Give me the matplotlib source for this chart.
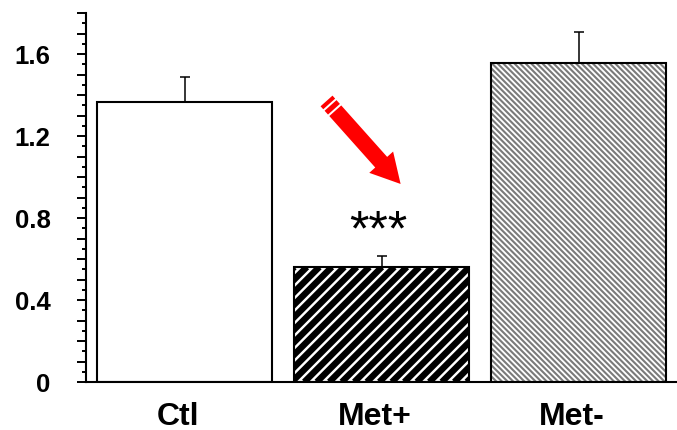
import numpy as np
import matplotlib
matplotlib.use("Agg")
import matplotlib.pyplot as plt
from matplotlib.lines import Line2D
from matplotlib.transforms import IdentityTransform, ScaledTranslation
from matplotlib.ticker import MultipleLocator, FuncFormatter

plt.rcParams['font.family'] = ['Liberation Sans', 'DejaVu Sans']
plt.rcParams['font.weight'] = 'bold'

# data
groups = ["Ctl", "Met+", "Met-"]
means = [1.367, 0.561, 1.556]
errors = [0.122, 0.054, 0.151]
sig_label = "***"

# arrow pointing at Met+ (tail, tip) in data coords
arrow_tail = (0.721, 1.371)
arrow_tip = (1.097, 0.966)


def stripes(ax, bar, period, lw, color, up=True):
    # draw diagonal stripes (in pixel space) clipped to a bar
    (x0, y0), (x1, y1) = ax.transData.transform(
        [(bar.get_x(), bar.get_y()),
         (bar.get_x() + bar.get_width(), bar.get_y() + bar.get_height())])
    h = y1 - y0
    for c in np.arange(x0 - h - period, x1 + period, period):
        if up:
            xs, ys = [c, c + h], [y0, y1]
        else:
            xs, ys = [c, c + h], [y1, y0]
        ln = Line2D(xs, ys, color=color, lw=lw, transform=IdentityTransform(),
                    solid_capstyle='butt', zorder=1.5)
        ax.add_artist(ln)
        ln.set_clip_path(bar)


fig = plt.figure(figsize=(6.77, 4.31), dpi=100)
ax = fig.add_axes([86/677, 48/431, 591/677, 369/431])

x = np.arange(len(groups))
ax.set_xlim(-0.5, 2.5)
ax.set_ylim(0, 1.8)

bars = ax.bar(x, means, width=0.885, color='white', edgecolor='none', zorder=1)
ax.bar(x, means, width=0.885, fill=False, edgecolor='black', linewidth=1.5, zorder=2)
ax.errorbar(x, means, yerr=[np.zeros(3), errors], fmt='none', ecolor='black',
            elinewidth=1.1, capsize=3.8, capthick=1.1, zorder=0.5)

stripes(ax, bars[1], 12.5, 4.6, 'black', up=True)
stripes(ax, bars[2], 5.6, 1.5, '#7a7a7a', up=False)

ax.text(0.985, 0.735, sig_label, ha='center', va='center', fontsize=36,
        fontweight='normal')

# red arrow with striped tail
tx, ty = arrow_tail
hx, hy = arrow_tip
def pt(t):
    return tx + (hx - tx) * t, ty + (hy - ty) * t
for a, b in [(0.0, 0.036), (0.054, 0.10)]:
    pa, pb = pt(a), pt(b)
    ax.plot([pa[0], pb[0]], [pa[1], pb[1]], color='red', lw=11.5,
            solid_capstyle='butt', zorder=3)
ax.annotate('', xy=arrow_tip, xytext=pt(0.118),
            arrowprops=dict(arrowstyle='simple,head_width=2.3,head_length=2.1,tail_width=1.15',
                            mutation_scale=10, color='red', lw=0, shrinkA=0, shrinkB=0),
            zorder=3)

# axes styling
for s in ['top', 'right']:
    ax.spines[s].set_visible(False)
ax.spines['left'].set_linewidth(1.5)
ax.spines['bottom'].set_linewidth(1.5)

ax.yaxis.set_major_locator(MultipleLocator(0.1))
ax.yaxis.set_minor_locator(MultipleLocator(0.05))
ax.yaxis.set_major_formatter(FuncFormatter(
    lambda v, p: f"{round(v, 1):g}" if abs(v / 0.4 - round(v / 0.4)) < 1e-6 else ""))
ax.tick_params(axis='y', which='major', length=6.5, width=1.4, labelsize=18.5, pad=19)
ax.tick_params(axis='y', which='minor', length=3.2, width=1.4)

ax.set_xticks(x)
ax.set_xticklabels(groups, fontsize=23)
ax.tick_params(axis='x', length=0, pad=14)
off = ScaledTranslation(-7/100, 0, fig.dpi_scale_trans)
for lab in ax.get_xticklabels():
    lab.set_transform(lab.get_transform() + off)

fig.savefig("out.png", dpi=100)
